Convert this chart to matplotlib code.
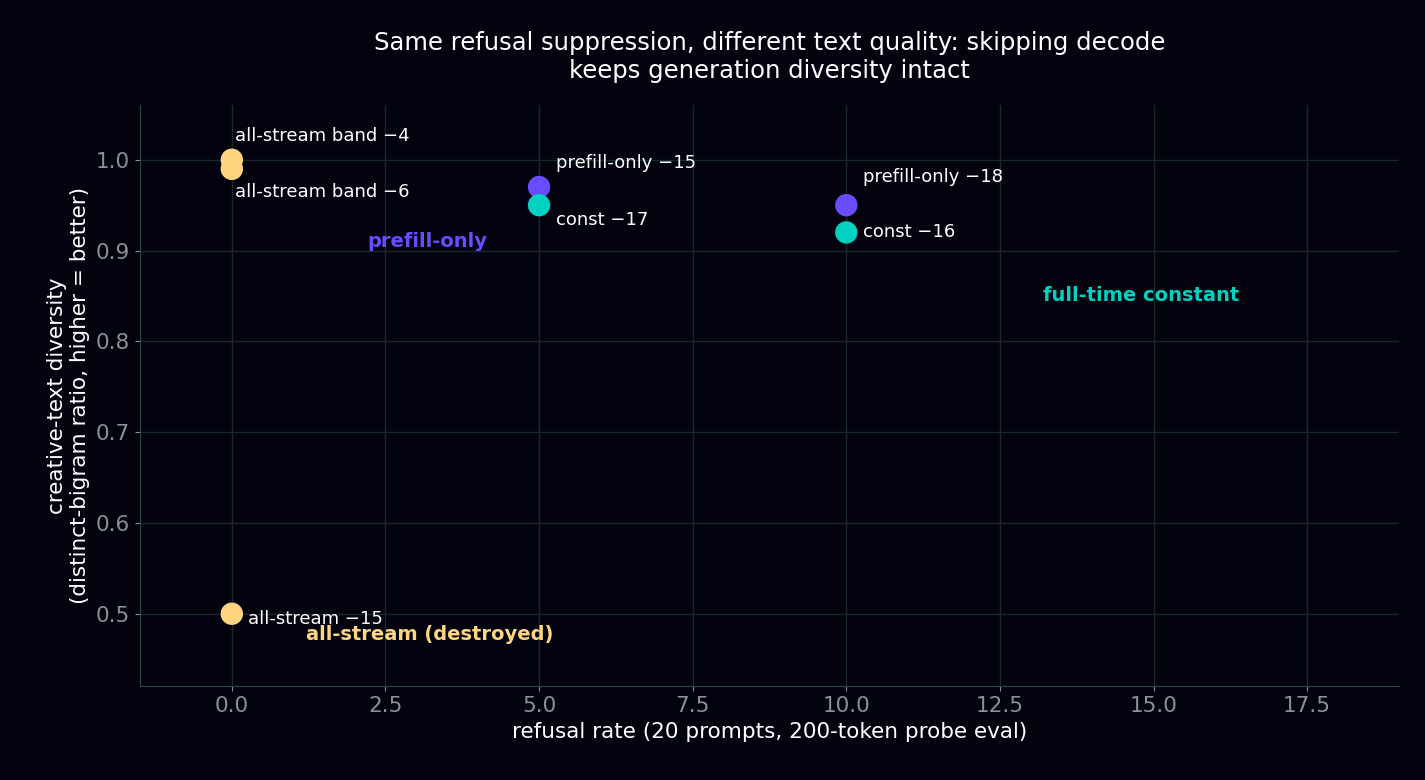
import matplotlib.pyplot as plt

# data
labels = ["all-stream band \u22124", "all-stream band \u22126", "all-stream \u221215",
          "prefill-only \u221215", "prefill-only \u221218", "const \u221217", "const \u221216"]
refusal = [0, 0, 0, 5, 10, 5, 10]
diversity = [1.00, 0.99, 0.50, 0.97, 0.95, 0.95, 0.92]
groups = ["all", "all", "all", "prefill", "prefill", "const", "const"]

colors = {"all": "#ffd580", "prefill": "#6a4cff", "const": "#00d1c1"}
# label offsets in points (dx, dy)
offsets = [(2, 17), (2, -17), (12, -4), (12, 17), (12, 20), (12, -11), (12, 0)]

bg = "#03030f"
fig, ax = plt.subplots(figsize=(14.25, 7.8), dpi=100)
fig.patch.set_facecolor(bg)
ax.set_facecolor(bg)
fig.subplots_adjust(left=0.098, right=0.982, top=0.865, bottom=0.12)

for x, y, g, lab, off in zip(refusal, diversity, groups, labels, offsets):
    ax.scatter(x, y, s=260, color=colors[g], zorder=3, edgecolors="none")
    ax.annotate(lab, (x, y), xytext=off, textcoords="offset points",
                color="white", fontsize=13, va="center", ha="left")

ax.text(2.2, 0.91, "prefill-only", color=colors["prefill"], fontsize=14, fontweight="bold", va="center")
ax.text(13.2, 0.85, "full-time constant", color=colors["const"], fontsize=14, fontweight="bold", va="center")
ax.text(1.2, 0.477, "all-stream (destroyed)", color=colors["all"], fontsize=14, fontweight="bold", va="center")

ax.set_xlim(-1.5, 19)
ax.set_ylim(0.42, 1.06)
ax.grid(color="#17292b", linewidth=1)
ax.set_axisbelow(True)
for s in ["top", "right"]:
    ax.spines[s].set_visible(False)
for s in ["left", "bottom"]:
    ax.spines[s].set_color("#2a4a48")
ax.tick_params(colors="#8a8f98", labelsize=15.5)
ax.set_xlabel("refusal rate (20 prompts, 200-token probe eval)", color="white", fontsize=15.5)
ax.set_ylabel("creative-text diversity\n(distinct-bigram ratio, higher = better)", color="white", fontsize=15.5)
ax.set_title("Same refusal suppression, different text quality: skipping decode\nkeeps generation diversity intact",
             color="white", fontsize=17.5, pad=20)

fig.savefig("out.png", facecolor=bg)
